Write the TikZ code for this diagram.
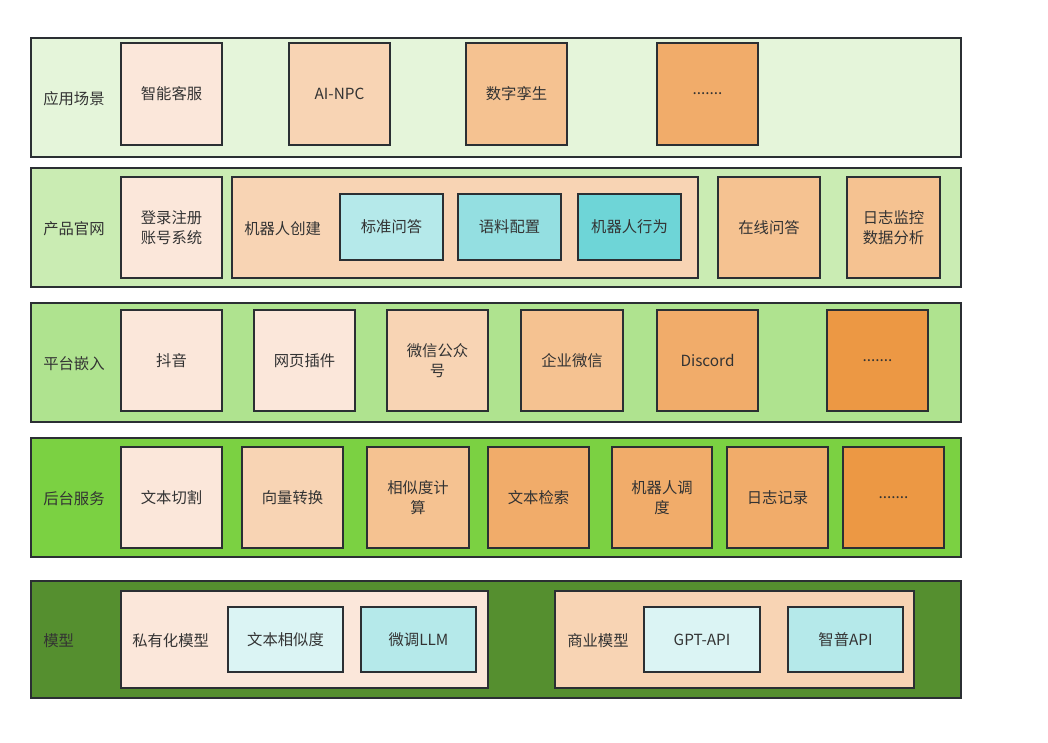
\documentclass[tikz,border=0pt]{standalone}
\usepackage{fontspec}
\setmainfont{Noto Sans CJK SC}

\definecolor{edge}{HTML}{2B2F33}
\definecolor{ink}{HTML}{333333}
\definecolor{gA}{HTML}{E5F5DA}
\definecolor{gB}{HTML}{CAECB3}
\definecolor{gC}{HTML}{AFE38F}
\definecolor{gD}{HTML}{7BD142}
\definecolor{gE}{HTML}{558F2F}
\definecolor{oA}{HTML}{FBE7DA}
\definecolor{oB}{HTML}{F8D4B4}
\definecolor{oC}{HTML}{F5C291}
\definecolor{oD}{HTML}{F1AC6A}
\definecolor{oE}{HTML}{EC9844}
\definecolor{bA}{HTML}{DBF4F4}
\definecolor{bB}{HTML}{B5E9EA}
\definecolor{bC}{HTML}{94DFE1}
\definecolor{bD}{HTML}{6ED5D7}

\tikzset{
  sz/.style 2 args={minimum width=#1*0.75pt, minimum height=#2*0.75pt},
  layer/.style={draw=edge, line width=1.5pt, inner sep=0pt},
  cell/.style={draw=edge, line width=1.5pt, inner sep=0pt, align=center,
    text=ink, font=\fontsize{11.5}{15}\selectfont},
  tag/.style={anchor=west, inner sep=0pt, text=ink, font=\fontsize{11.5}{15}\selectfont}
}

\begin{document}
\begin{tikzpicture}[x=0.75pt, y=-0.75pt]
    \useasboundingbox (0,0) rectangle (1048,742);

    % layers
    \node[layer, fill=gA, sz={930}{119}] (scene) at (496, 97.5) {};
    \node[layer, fill=gB, sz={930}{119}] (site) at (496, 227.5) {};
    \node[layer, fill=gC, sz={930}{119}] (embed) at (496, 362.5) {};
    \node[layer, fill=gD, sz={930}{119}] (backend) at (496, 497.5) {};
    \node[layer, fill=gE, sz={930}{117}] (model) at (496, 639.5) {};

    \node[tag] (sceneT) at (43, 99) {应用场景};
    \node[tag] (siteT) at (43, 229) {产品官网};
    \node[tag] (embedT) at (43, 364) {平台嵌入};
    \node[tag] (backendT) at (43, 499) {后台服务};
    \node[tag] (modelT) at (43, 641) {模型};

    % 应用场景
    \node[cell, fill=oA, sz={101}{102}] (kf) at (171.5, 94) {智能客服};
    \node[cell, fill=oB, sz={101}{102}] (npc) at (339.5, 94) {AI-NPC};
    \node[cell, fill=oC, sz={101}{102}] (twin) at (516.5, 94) {数字孪生};
    \node[cell, fill=oD, sz={101}{102}] (more1) at (707.5, 94) {.......};

    % 产品官网
    \node[cell, fill=oA, sz={101}{101}] (login) at (171.5, 227.5) {登录注册\\账号系统};
    \node[cell, fill=oB, sz={466}{101}] (robot) at (465, 227.5) {};
    \node[tag] (robotT) at (244, 229) {机器人创建};
    \node[cell, fill=bB, sz={103}{66}] (qa) at (391.5, 227) {标准问答};
    \node[cell, fill=bC, sz={103}{66}] (corpus) at (509.5, 227) {语料配置};
    \node[cell, fill=bD, sz={103}{66}] (act) at (629.5, 227) {机器人行为};
    \node[cell, fill=oC, sz={102}{101}] (online) at (769, 227.5) {在线问答};
    \node[cell, fill=oC, sz={93}{101}] (logmon) at (893.5, 227.5) {日志监控\\数据分析};

    % 平台嵌入
    \node[cell, fill=oA, sz={101}{101}] (douyin) at (171.5, 360.5) {抖音};
    \node[cell, fill=oA, sz={101}{101}] (plugin) at (304.5, 360.5) {网页插件};
    \node[cell, fill=oB, sz={101}{101}] (wxmp) at (437.5, 360.5) {微信公众\\号};
    \node[cell, fill=oC, sz={102}{101}] (wxwork) at (572, 360.5) {企业微信};
    \node[cell, fill=oD, sz={101}{101}] (discord) at (707.5, 360.5) {Discord};
    \node[cell, fill=oE, sz={101}{101}] (more2) at (877.5, 360.5) {.......};

    % 后台服务
    \node[cell, fill=oA, sz={101}{101}] (split) at (171.5, 497.5) {文本切割};
    \node[cell, fill=oB, sz={101}{101}] (vec) at (292.5, 497.5) {向量转换};
    \node[cell, fill=oC, sz={102}{101}] (sim) at (418, 497.5) {相似度计\\算};
    \node[cell, fill=oD, sz={101}{101}] (search) at (538.5, 497.5) {文本检索};
    \node[cell, fill=oD, sz={100}{101}] (sched) at (662, 497.5) {机器人调\\度};
    \node[cell, fill=oD, sz={101}{101}] (logrec) at (777.5, 497.5) {日志记录};
    \node[cell, fill=oE, sz={101}{101}] (more3) at (893.5, 497.5) {.......};

    % 模型
    \node[cell, fill=oA, sz={367}{97}] (priv) at (304.5, 639.5) {};
    \node[tag] (privT) at (132, 641) {私有化模型};
    \node[cell, fill=bA, sz={115}{65}] (textsim) at (285.5, 639.5) {文本相似度};
    \node[cell, fill=bB, sz={115}{65}] (ft) at (418.5, 639.5) {微调LLM};
    \node[cell, fill=oB, sz={359}{97}] (biz) at (734.5, 639.5) {};
    \node[tag] (bizT) at (567, 641) {商业模型};
    \node[cell, fill=bA, sz={116}{65}] (gpt) at (702, 639.5) {GPT-API};
    \node[cell, fill=bB, sz={115}{65}] (zp) at (845.5, 639.5) {智普API};
\end{tikzpicture}
\end{document}
